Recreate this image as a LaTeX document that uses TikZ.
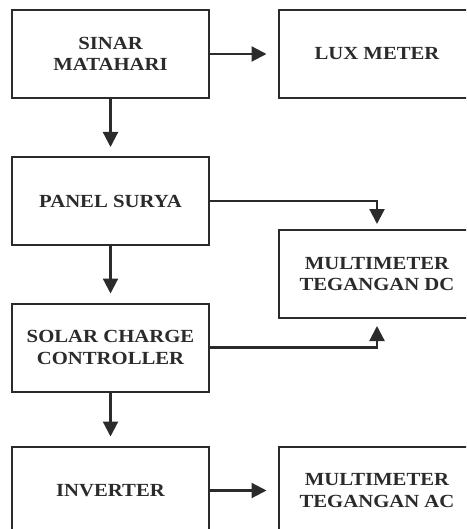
\documentclass[tikz,border=0pt]{standalone}
\usepackage{fontspec}
\setmainfont{Liberation Serif}[FakeStretch=1.12]
\usetikzlibrary{arrows.meta}
\definecolor{ink}{HTML}{2B2B2B}
\tikzset{
  blk/.style={draw=ink, line width=2pt, fill=white, minimum width=197pt, minimum height=88pt,
    inner sep=0pt, align=center, text=ink, font=\fontsize{18.5}{21.5}\selectfont\bfseries},
  arr/.style={draw=ink, line width=2.2pt, -{Triangle[length=15pt,width=15pt]}},
}
\begin{document}
\begin{tikzpicture}[x=1pt,y=-1pt]
\useasboundingbox (0,0) rectangle (466,529);
\clip (0,0) rectangle (466,529);
\node[blk] (sinar) at (110.5,54) {SINAR\\MATAHARI};
\node[blk] (lux) at (377,54) {LUX METER};
\node[blk] (panel) at (110.5,201) {PANEL SURYA};
\node[blk] (dc) at (377,274) {MULTIMETER\\TEGANGAN DC};
\node[blk] (scc) at (110.5,347.5) {SOLAR CHARGE\\CONTROLLER};
\node[blk] (inv) at (110.5,490.5) {INVERTER};
\node[blk] (ac) at (377,490.5) {MULTIMETER\\TEGANGAN AC};
\draw[arr, shorten >=11pt] (sinar) -- (lux);
\draw[arr, shorten >=9pt] (sinar) -- (panel);
\draw[arr, shorten >=5pt] (panel) -| (dc.north);
\draw[arr, shorten >=9pt] (panel) -- (scc);
\draw[arr, shorten >=7pt] (scc.east) -| (dc.south);
\draw[arr, shorten >=9pt] (scc) -- (inv);
\draw[arr, shorten >=11pt] (inv) -- (ac);
\end{tikzpicture}
\end{document}
